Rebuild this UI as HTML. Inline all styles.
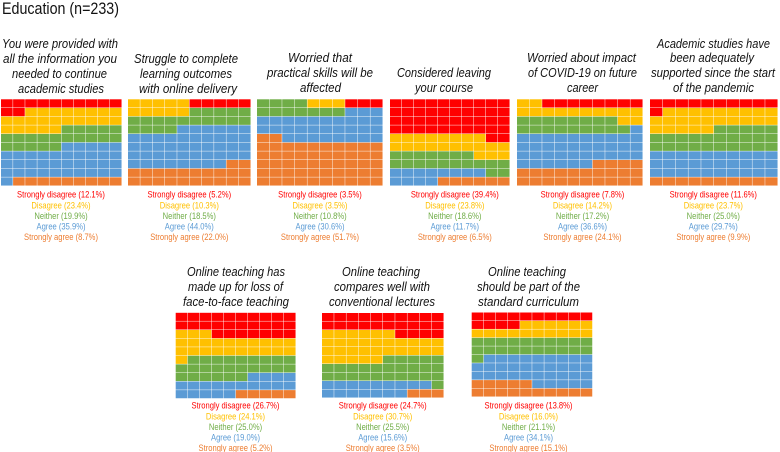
<!DOCTYPE html>
<html lang="en">
<head>
<meta charset="utf-8">
<title>Education (n=233)</title>
<style>
  html, body { margin: 0; padding: 0; background: #fff; }
  body { width: 780px; height: 452px; overflow: hidden; }
  svg { display: block; filter: blur(0.35px); }
  text { font-family: "Liberation Sans", sans-serif; }
  .q { font-size: 12.6px; font-style: italic; fill: #111; }
  .t { font-size: 16.5px; fill: #111; }
  .l { font-size: 9px; }
</style>
</head>
<body>
<svg id="chart" xmlns="http://www.w3.org/2000/svg" width="780" height="452" viewBox="0 0 780 452">
  <rect width="780" height="452" fill="#fff"/>
  <text class="t" x="2" y="14" textLength="117" lengthAdjust="spacingAndGlyphs">Education (n=233)</text>

  <g>
    <text class="q" x="2" y="48" textLength="116" lengthAdjust="spacingAndGlyphs">You were provided with</text>
    <text class="q" x="3" y="63" textLength="114" lengthAdjust="spacingAndGlyphs">all the information you</text>
    <text class="q" x="12" y="78" textLength="95" lengthAdjust="spacingAndGlyphs">needed to continue</text>
    <text class="q" x="18" y="93" textLength="86" lengthAdjust="spacingAndGlyphs">academic studies</text>
  </g>
  <g>
    <text class="q" x="134" y="63" textLength="104" lengthAdjust="spacingAndGlyphs">Struggle to complete</text>
    <text class="q" x="140" y="78" textLength="92" lengthAdjust="spacingAndGlyphs">learning outcomes</text>
    <text class="q" x="139" y="93" textLength="98" lengthAdjust="spacingAndGlyphs">with online delivery</text>
  </g>
  <g>
    <text class="q" x="288" y="62" textLength="64" lengthAdjust="spacingAndGlyphs">Worried that</text>
    <text class="q" x="267" y="77" textLength="106" lengthAdjust="spacingAndGlyphs">practical skills will be</text>
    <text class="q" x="300" y="92" textLength="41" lengthAdjust="spacingAndGlyphs">affected</text>
  </g>
  <g>
    <text class="q" x="397" y="77" textLength="94" lengthAdjust="spacingAndGlyphs">Considered leaving</text>
    <text class="q" x="415" y="92" textLength="58" lengthAdjust="spacingAndGlyphs">your course</text>
  </g>
  <g>
    <text class="q" x="527" y="62" textLength="109" lengthAdjust="spacingAndGlyphs">Worried about impact</text>
    <text class="q" x="528" y="77" textLength="109" lengthAdjust="spacingAndGlyphs">of COVID-19 on future</text>
    <text class="q" x="567" y="92" textLength="31" lengthAdjust="spacingAndGlyphs">career</text>
  </g>
  <g>
    <text class="q" x="657" y="48" textLength="113" lengthAdjust="spacingAndGlyphs">Academic studies have</text>
    <text class="q" x="670" y="62" textLength="84" lengthAdjust="spacingAndGlyphs">been adequately</text>
    <text class="q" x="651" y="77" textLength="124" lengthAdjust="spacingAndGlyphs">supported since the start</text>
    <text class="q" x="673" y="92" textLength="81" lengthAdjust="spacingAndGlyphs">of the pandemic</text>
  </g>
  <g>
    <text class="q" x="187" y="276" textLength="98" lengthAdjust="spacingAndGlyphs">Online teaching has</text>
    <text class="q" x="188" y="291" textLength="95" lengthAdjust="spacingAndGlyphs">made up for loss of</text>
    <text class="q" x="183" y="306" textLength="106" lengthAdjust="spacingAndGlyphs">face-to-face teaching</text>
  </g>
  <g>
    <text class="q" x="342" y="276" textLength="78" lengthAdjust="spacingAndGlyphs">Online teaching</text>
    <text class="q" x="334" y="291" textLength="96" lengthAdjust="spacingAndGlyphs">compares well with</text>
    <text class="q" x="329" y="306" textLength="106" lengthAdjust="spacingAndGlyphs">conventional lectures</text>
  </g>
  <g>
    <text class="q" x="488" y="276" textLength="78" lengthAdjust="spacingAndGlyphs">Online teaching</text>
    <text class="q" x="477" y="291" textLength="103" lengthAdjust="spacingAndGlyphs">should be part of the</text>
    <text class="q" x="478" y="306" textLength="101" lengthAdjust="spacingAndGlyphs">standard curriculum</text>
  </g>
</svg>
<script>
// Response categories, in fill order
const categories = ['Strongly disagree', 'Disagree', 'Neither', 'Agree', 'Strongly agree'];

// Printed percentages per question
const printedPercent1 = [12.1, 23.4, 19.9, 35.9, 8.7];
const printedPercent2 = [5.2, 10.3, 18.5, 44.0, 22.0];
const printedPercent3 = [3.5, 3.5, 10.8, 30.6, 51.7];
const printedPercent4 = [39.4, 23.8, 18.6, 11.7, 6.5];
const printedPercent5 = [7.8, 14.2, 17.2, 36.6, 24.1];
const printedPercent6 = [11.6, 23.7, 25.0, 29.7, 9.9];
const printedPercent7 = [26.7, 24.1, 25.0, 19.0, 5.2];
const printedPercent8 = [24.7, 30.7, 25.5, 15.6, 3.5];
const printedPercent9 = [13.8, 16.0, 21.1, 34.1, 15.1];

// Number of waffle squares per category
const squares1 = [12, 23, 20, 36, 9];
const squares2 = [5, 10, 19, 44, 22];
const squares3 = [3, 3, 11, 31, 52];
const squares4 = [42, 21, 19, 12, 6];
const squares5 = [8, 14, 17, 37, 24];
const squares6 = [11, 24, 25, 30, 10];
const squares7 = [27, 24, 25, 19, 5];
const squares8 = [24, 31, 26, 16, 3];
const squares9 = [14, 16, 21, 34, 15];

const printedPercents = [printedPercent1, printedPercent2, printedPercent3, printedPercent4, printedPercent5, printedPercent6, printedPercent7, printedPercent8, printedPercent9];
const squareCounts = [squares1, squares2, squares3, squares4, squares5, squares6, squares7, squares8, squares9];

// Styling and layout (not data)
const palette = ['#FF0000', '#FFC000', '#70AD47', '#5B9BD5', '#ED7D31'];
const frames = [
  { left: 1, right: 122, top: 99.3, bottom: 186, legendX: 61, legendY: 197.7 },
  { left: 128, right: 251, top: 99.3, bottom: 186, legendX: 189.3, legendY: 197.7 },
  { left: 257, right: 383, top: 99.3, bottom: 186, legendX: 320, legendY: 197.7 },
  { left: 390, right: 510, top: 99.3, bottom: 186, legendX: 454.8, legendY: 197.7 },
  { left: 517, right: 643, top: 99.3, bottom: 186, legendX: 582.5, legendY: 197.7 },
  { left: 650, right: 778, top: 99.3, bottom: 186, legendX: 713.3, legendY: 197.7 },
  { left: 175.7, right: 296, top: 312.8, bottom: 398.7, legendX: 235.5, legendY: 408.7 },
  { left: 322, right: 444, top: 313, bottom: 398, legendX: 382.7, legendY: 408.7 },
  { left: 471.7, right: 592.7, top: 312.5, bottom: 397, legendX: 528.5, legendY: 408.7 }
];
const GRID = 10;
const GAP = 0.45;
const LINE_STEP = 10.55;
const NS = 'http://www.w3.org/2000/svg';
const svg = document.getElementById('chart');

function columnScale(frame, col) {
  return frame.left + col * (frame.right - frame.left) / GRID;
}
function rowScale(frame, row) {
  return frame.top + row * (frame.bottom - frame.top) / GRID;
}

squareCounts.forEach(function (counts, p) {
  const frame = frames[p];
  const group = document.createElementNS(NS, 'g');
  
  
  svg.appendChild(group);

  // Squares snake from the top-right corner: odd rows run right to left
  let index = 0;
  counts.forEach(function (count, c) {
    for (let n = 0; n < count; n++, index++) {
      const row = Math.floor(index / GRID);
      const col = row % 2 === 0 ? GRID - 1 - (index % GRID) : index % GRID;
      const x0 = columnScale(frame, col);
      const x1 = columnScale(frame, col + 1);
      const y0 = rowScale(frame, row);
      const y1 = rowScale(frame, row + 1);
      const cell = document.createElementNS(NS, 'rect');
      
      
      cell.setAttribute('x', x0);
      cell.setAttribute('y', y0);
      cell.setAttribute('width', x1 - x0 - GAP);
      cell.setAttribute('height', y1 - y0 - GAP);
      cell.setAttribute('fill', palette[c]);
      group.appendChild(cell);
    }
  });

  // Legend entries under the waffle
  categories.forEach(function (name, c) {
    const label = document.createElementNS(NS, 'text');
    
    
    label.setAttribute('class', 'l');
    label.setAttribute('text-anchor', 'middle');
    label.setAttribute('fill', palette[c]);
    label.setAttribute('transform', 'translate(' + frame.legendX + ',' + (frame.legendY + c * LINE_STEP) + ') scale(0.845,1)');
    label.textContent = name + ' (' + printedPercents[p][c].toFixed(1) + '%)';
    group.appendChild(label);
  });
});
</script>
</body>
</html>
